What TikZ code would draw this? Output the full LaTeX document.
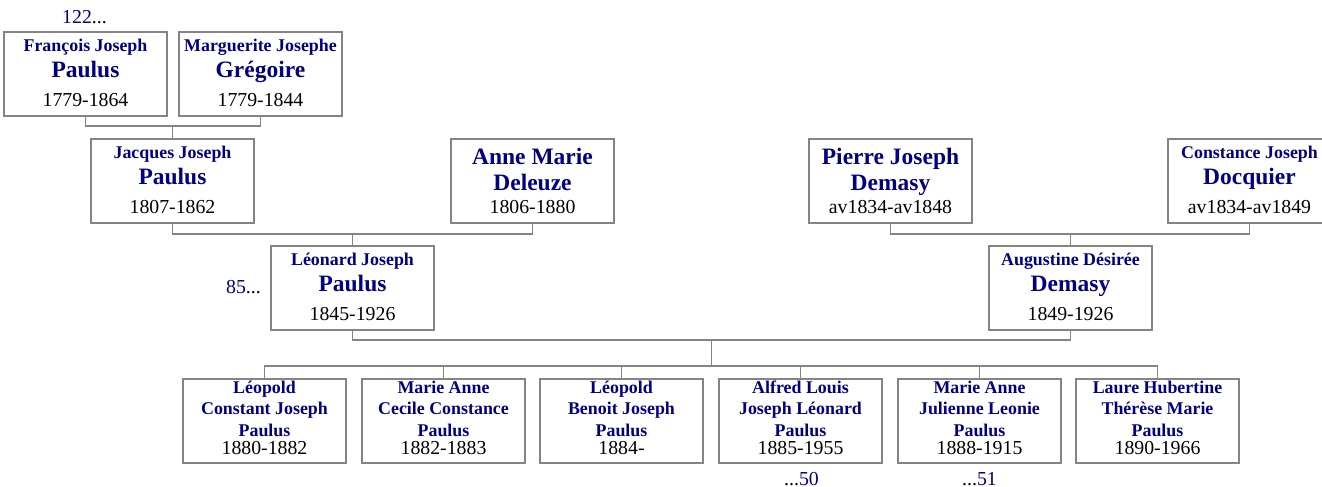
\documentclass[tikz,border=0pt]{standalone}
\usepackage{fontspec}
\setmainfont{Liberation Serif}
\usetikzlibrary{calc}
\definecolor{nav}{RGB}{0,0,128}
\definecolor{lin}{RGB}{132,132,132}
\newcommand\Smf{\fontsize{17.9}{20}\selectfont\bfseries\color{nav}}
\newcommand\Lgf{\fontsize{23.5}{26}\selectfont\bfseries\color{nav}}
\newcommand\Dtf{\fontsize{19.8}{22}\selectfont\color{black}}
\newcommand\Ln[3]{\vskip#1\hbox to\hsize{\hss\smash{#2#3}\hss}}
\newcommand\Pbox[1]{\vbox to 84pt{\hsize=163pt\offinterlineskip #1\vss}}
\newcommand\SLD[3]{\Pbox{\Ln{19pt}\Smf{#1}\Ln{26pt}\Lgf{#2}\Ln{29pt}\Dtf{#3}}}
\newcommand\LLD[3]{\Pbox{\Ln{25pt}\Lgf{#1}\Ln{26pt}\Lgf{#2}\Ln{23pt}\Dtf{#3}}}
\newcommand\Kid[4]{\Pbox{\Ln{14pt}\Smf{#1}\Ln{21pt}\Smf{#2}\Ln{22pt}\Smf{#3}\Ln{18pt}\Dtf{#4}}}
\tikzset{
  pbox/.style={draw=lin, line width=1.6pt, inner sep=0pt, outer sep=0pt, anchor=north west},
  conn/.style={draw=lin, line width=1.5pt},
  num/.style={inner sep=0pt, font=\fontsize{19.8}{22}\selectfont}
}
\begin{document}
\begin{tikzpicture}[x=1pt,y=-1pt]
\useasboundingbox (0,0) rectangle (1322,487);
\clip (0,0) rectangle (1322,487);
% generation 1
\node[pbox] (fj) at (4,32) {\SLD{François Joseph}{Paulus}{1779-1864}};
\node[pbox] (mg) at (179,32) {\SLD{Marguerite Josephe}{Grégoire}{1779-1844}};
% generation 2
\node[pbox] (jj) at (91,139) {\SLD{Jacques Joseph}{Paulus}{1807-1862}};
\node[pbox] (am) at (451,139) {\LLD{Anne Marie}{Deleuze}{1806-1880}};
\node[pbox] (pj) at (809,139) {\LLD{Pierre Joseph}{Demasy}{av1834-av1848}};
\node[pbox] (cj) at (1168,139) {\SLD{Constance Joseph}{Docquier}{av1834-av1849}};
% generation 3
\node[pbox] (lj) at (271,246) {\SLD{Léonard Joseph}{Paulus}{1845-1926}};
\node[pbox] (ad) at (989,246) {\SLD{Augustine Désirée}{Demasy}{1849-1926}};
% children
\node[pbox] (c1) at (183,379) {\Kid{Léopold}{Constant Joseph}{Paulus}{1880-1882}};
\node[pbox] (c2) at (362,379) {\Kid{Marie Anne}{Cecile Constance}{Paulus}{1882-1883}};
\node[pbox] (c3) at (540,379) {\Kid{Léopold}{Benoit Joseph}{Paulus}{1884-}};
\node[pbox] (c4) at (719,379) {\Kid{Alfred Louis}{Joseph Léonard}{Paulus}{1885-1955}};
\node[pbox] (c5) at (898,379) {\Kid{Marie Anne}{Julienne Leonie}{Paulus}{1888-1915}};
\node[pbox] (c6) at (1076,379) {\Kid{Laure Hubertine}{Thérèse Marie}{Paulus}{1890-1966}};
% reference numbers
\node[num, anchor=base west] (n122) at ($(fj.north west)+(58,-8)$) {\textcolor{nav}{122}...};
\node[num, anchor=base east] (n85) at ($(lj.west)+(-10,5)$) {\textcolor{nav}{85}...};
\node[num, anchor=base] (n50) at ($(c4.south)+(1,22)$) {...\textcolor{nav}{50}};
\node[num, anchor=base] (n51) at ($(c5.south)+(0,22)$) {...\textcolor{nav}{51}};
% connectors
\draw[conn] (fj.south) -- ++(0,10) coordinate (f1) -| (mg.south);
\draw[conn] (jj.north) -- (jj.north |- f1);
\draw[conn] (jj.south) -- ++(0,11) coordinate (f2) -| (am.south);
\draw[conn] (lj.north) -- (lj.north |- f2);
\draw[conn] (pj.south) -- ++(0,11) coordinate (f3) -| (cj.south);
\draw[conn] (ad.north) -- (ad.north |- f3);
\draw[conn] (lj.south) -- ++(0,10) coordinate (f4) -| (ad.south);
\coordinate (f4m) at ($(lj.south)!0.5!(ad.south)$);
\draw[conn] (c1.north) -- ++(0,-13) coordinate (f5) -| (c6.north);
\draw[conn] (f4m |- f4) -- (f4m |- f5);
\foreach \c in {c2,c3,c4,c5} \draw[conn] (\c.north) -- (\c.north |- f5);
\end{tikzpicture}
\end{document}
